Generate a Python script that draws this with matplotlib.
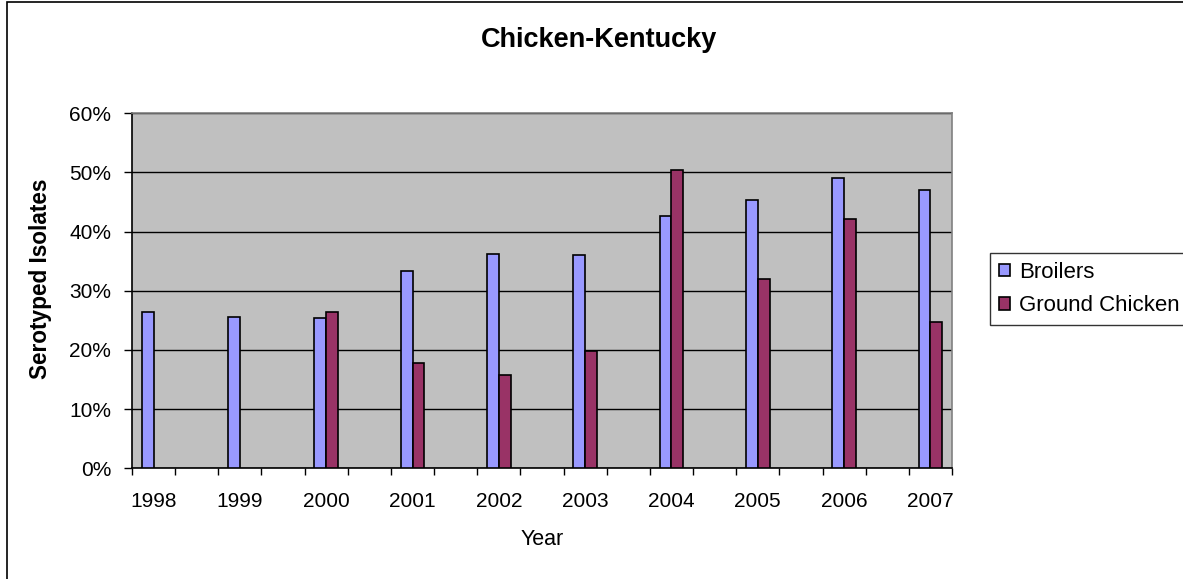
import numpy as np
import matplotlib
matplotlib.use("Agg")
import matplotlib.pyplot as plt
from matplotlib.patches import Rectangle
from matplotlib.ticker import PercentFormatter

plt.rcParams["font.family"] = ["Liberation Sans", "DejaVu Sans"]

years = ["1998", "1999", "2000", "2001", "2002", "2003", "2004", "2005", "2006", "2007"]
broilers = [26.5, 25.6, 25.4, 33.4, 36.3, 36.1, 42.7, 45.4, 49.0, 47.0]
ground = [None, None, 26.5, 17.8, 15.8, 19.9, 50.5, 32.0, 42.1, 24.8]
yticks = [0, 10, 20, 30, 40, 50, 60]

W, H = 1183, 579
fig = plt.figure(figsize=(W / 100, H / 100), dpi=100)
ax = fig.add_axes([132 / W, 1 - 468.3 / H, 820 / W, 355 / H])
ax.set_facecolor("#C0C0C0")

# each year sits in every other slot, empty slots between
pos = np.arange(len(years)) * 2
bw = 0.275
ax.bar(pos - bw / 2, broilers, width=bw, color="#9999FF", edgecolor="black",
       linewidth=1.2, label="Broilers", zorder=3)
gx = [p for p, v in zip(pos, ground) if v is not None]
gv = [v for v in ground if v is not None]
ax.bar(np.array(gx) + bw / 2, gv, width=bw, color="#993366", edgecolor="black",
       linewidth=1.2, label="Ground Chicken", zorder=3)

ax.set_xlim(-0.5, 18.5)
ax.set_ylim(0, 60)
ax.set_yticks(yticks)
ax.yaxis.set_major_formatter(PercentFormatter(xmax=100, decimals=0))
ax.grid(axis="y", color="black", linewidth=1, zorder=1)
ax.set_axisbelow(True)

ax.set_xticks(np.arange(-0.5, 19, 1))
ax.set_xticklabels([])
ax.set_xticks(pos, years, minor=True)
ax.tick_params(axis="x", which="major", direction="out", length=5, width=1)
ax.tick_params(axis="x", which="minor", length=0, pad=17, labelsize=15)
ax.tick_params(axis="y", direction="out", length=6, width=1, pad=9, labelsize=15)

for s in ["top", "right"]:
    ax.spines[s].set_color("#808080")
    ax.spines[s].set_linewidth(1.2)
for s in ["left", "bottom"]:
    ax.spines[s].set_color("black")
    ax.spines[s].set_linewidth(1.2)

ax.set_xlabel("Year", fontsize=15.5, labelpad=13)
fig.text(40 / W, 1 - 278.5 / H, "Serotyped Isolates", rotation=90, ha="center",
         va="center", fontsize=16.3, fontweight="bold")
fig.text(599 / W, 1 - 47 / H, "Chicken-Kentucky", ha="center", va="baseline",
         fontsize=19.5, fontweight="bold")

leg = fig.legend(loc="center left", bbox_to_anchor=(990 / W, 1 - 289 / H),
                 fontsize=16, frameon=True, fancybox=False, edgecolor="black",
                 handlelength=0.5, handleheight=0.5, handletextpad=0.4,
                 borderpad=0.4, labelspacing=0.55, borderaxespad=0)
leg.get_frame().set_linewidth(1)

fig.patches.append(Rectangle((7 / W, -0.05), 2, 1.05 - 1.5 / H, transform=fig.transFigure,
                             fill=False, edgecolor="black", linewidth=1.2))

fig.savefig("out.png", dpi=100)
